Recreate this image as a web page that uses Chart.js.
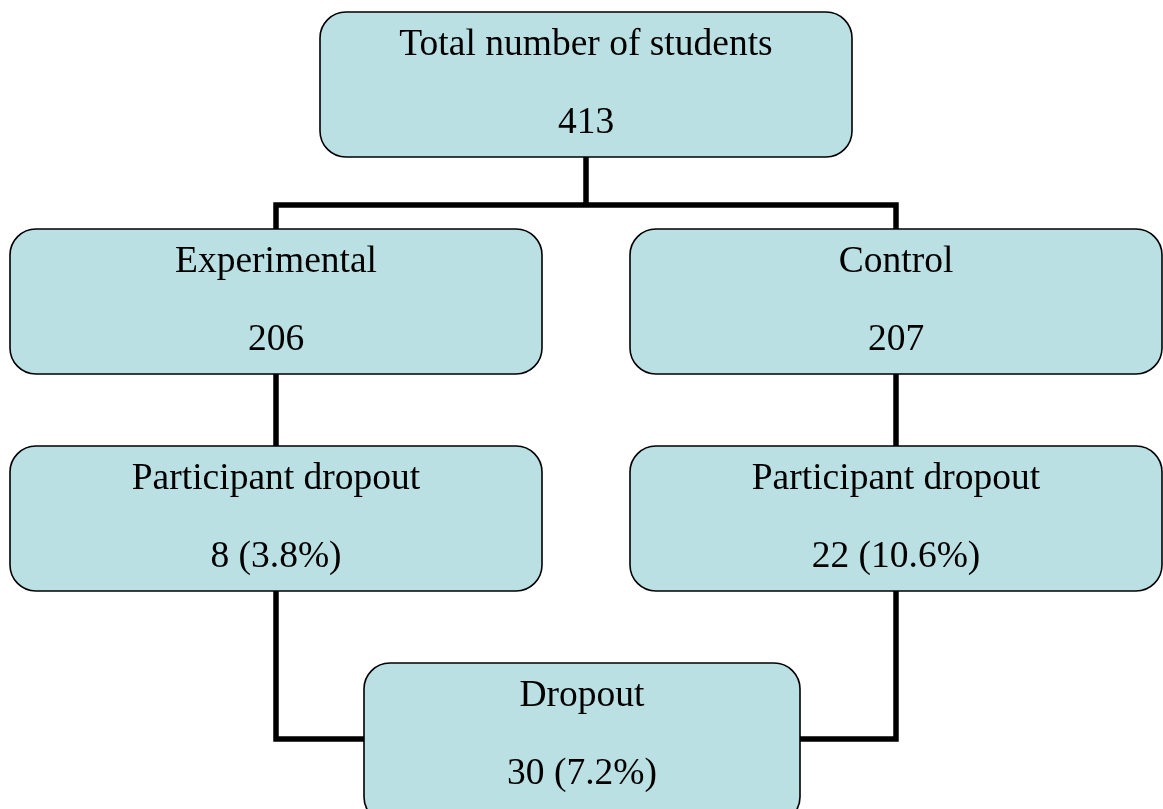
<!DOCTYPE html>
<html>
<head>
<meta charset="utf-8">
<title>Student flow</title>
<script src="https://cdn.jsdelivr.net/npm/chart.js@4"></script>
<style>
  html, body { margin: 0; padding: 0; background: #fff; }
  #wrap { width: 1163px; height: 809px; }
</style>
</head>
<body>
<div id="wrap"><canvas id="c" width="1163" height="809"></canvas></div>
<script>
// ---- data: node labels and counts
const nodeTitles = ["Total number of students", "Experimental", "Control",
                    "Participant dropout", "Participant dropout", "Dropout"];
const nodeValues = ["413", "206", "207", "8 (3.8%)", "22 (10.6%)", "30 (7.2%)"];

// ---- layout (page units), kept apart from the data
const boxes = [
  { x: 320, y: 12,  w: 532, h: 145 },
  { x: 10,  y: 229, w: 532, h: 145 },
  { x: 630, y: 229, w: 532, h: 145 },
  { x: 10,  y: 446, w: 532, h: 145 },
  { x: 630, y: 446, w: 532, h: 145 },
  { x: 364, y: 663, w: 436, h: 160 },
];
const midX = i => boxes[i].x + boxes[i].w / 2;
const topY = i => boxes[i].y;
const botY = i => boxes[i].y + boxes[i].h;

// elbow connectors built from the layout
const busY = 205, joinY = 739;
const links = [
  [{ x: midX(0), y: botY(0) }, { x: midX(0), y: busY }],
  [{ x: midX(1), y: topY(1) }, { x: midX(1), y: busY }, { x: midX(2), y: busY }, { x: midX(2), y: topY(2) }],
  [{ x: midX(1), y: botY(1) }, { x: midX(3), y: topY(3) }],
  [{ x: midX(2), y: botY(2) }, { x: midX(4), y: topY(4) }],
  [{ x: midX(3), y: botY(3) }, { x: midX(3), y: joinY }, { x: boxes[5].x, y: joinY }],
  [{ x: midX(4), y: botY(4) }, { x: midX(4), y: joinY }, { x: boxes[5].x + boxes[5].w, y: joinY }],
];

const FONT = '37.5px "Liberation Serif", "Times New Roman", serif';

const boxPlugin = {
  id: "boxes",
  afterDatasetsDraw(chart) {
    const { ctx, scales: { x, y } } = chart;
    ctx.save();
    boxes.forEach((b, i) => {
      const x0 = x.getPixelForValue(b.x), x1 = x.getPixelForValue(b.x + b.w);
      const y0 = y.getPixelForValue(b.y), y1 = y.getPixelForValue(b.y + b.h);
      ctx.beginPath();
      ctx.roundRect(x0, y0, x1 - x0, y1 - y0, 26);
      ctx.fillStyle = "#bae0e3";
      ctx.fill();
      ctx.lineWidth = 1.6;
      ctx.strokeStyle = "#000";
      ctx.stroke();
      ctx.fillStyle = "#000";
      ctx.font = FONT;
      ctx.textAlign = "center";
      ctx.textBaseline = "alphabetic";
      const mx = (x0 + x1) / 2;
      ctx.fillText(nodeTitles[i], mx, y.getPixelForValue(b.y + 43));
      ctx.fillText(nodeValues[i], mx, y.getPixelForValue(b.y + 121));
    });
    ctx.restore();
  },
};

new Chart(document.getElementById("c"), {
  type: "scatter",
  data: {
    datasets: links.map(pts => ({
      data: pts, showLine: true, borderColor: "#000", borderWidth: 5.5,
      pointRadius: 0, borderJoinStyle: "miter", borderCapStyle: "butt", tension: 0,
    })),
  },
  options: {
    responsive: false, animation: false, events: [],
    layout: { padding: 0 },
    plugins: { legend: { display: false }, tooltip: { enabled: false } },
    scales: {
      x: { type: "linear", min: 0, max: 1163, display: false },
      y: { type: "linear", min: 0, max: 809, reverse: true, display: false },
    },
  },
  plugins: [boxPlugin],
});
</script>
</body>
</html>
